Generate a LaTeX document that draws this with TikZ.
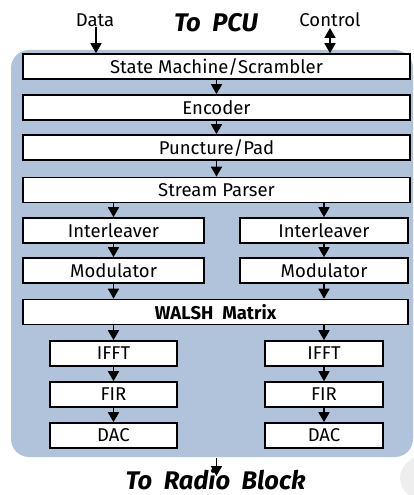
\documentclass[tikz,border=0pt]{standalone}
\usepackage{fontspec}
\setmainfont{Fira Sans}
\usetikzlibrary{arrows.meta}
\definecolor{panel}{HTML}{B0C3DB}
\definecolor{blob}{HTML}{EEEEEE}
\tikzset{
  box/.style={draw=black, line width=1.6pt, fill=white, inner sep=0pt, font=\fontsize{18.5}{21}\selectfont, minimum height=25pt},
  tip/.tip={Triangle[width=11pt,length=10pt]},
  flow/.style={line width=1.6pt, -tip},
  title/.style={font=\fontsize{25.5}{29}\selectfont\bfseries\itshape, inner sep=0pt},
  lbl/.style={font=\fontsize{18.5}{21}\selectfont}
}
\begin{document}
\begin{tikzpicture}[x=1pt,y=-1pt]
\useasboundingbox (0,0) rectangle (414,495);
\fill[blob] (430,478) ellipse (30pt and 24pt);
\fill[panel, rounded corners=18pt] (11,50) rectangle (413,457);

\node[box, minimum width=387pt] (sm) at (216.5,66.5) {State Machine/Scrambler};
\node[box, minimum width=387pt] (enc) at (216.5,107.5) {Encoder};
\node[box, minimum width=387pt] (punc) at (216.5,147.5) {Puncture/Pad};
\node[box, minimum width=387pt] (sp) at (216.5,190) {Stream Parser};
\node[box, minimum width=181pt] (il1) at (113.5,230.5) {Interleaver};
\node[box, minimum width=168pt] (il2) at (324,230.5) {Interleaver};
\node[box, minimum width=181pt] (mod1) at (113.5,270.5) {Modulator};
\node[box, minimum width=168pt] (mod2) at (324,270.5) {Modulator};
\node[box, minimum width=385pt, font=\fontsize{18.5}{21}\selectfont\bfseries] (walsh) at (215.5,312) {WALSH\ \ Matrix};
\node[box, minimum width=127pt] (ifft1) at (113.5,353.5) {IFFT};
\node[box, minimum width=118pt] (ifft2) at (324,353.5) {IFFT};
\node[box, minimum width=127pt] (fir1) at (113.5,394.5) {FIR};
\node[box, minimum width=118pt] (fir2) at (324,394.5) {FIR};
\node[box, minimum width=127pt] (dac1) at (113.5,435.5) {DAC};
\node[box, minimum width=118pt] (dac2) at (324,435.5) {DAC};

\node[lbl] (data) at (95,20) {Data};
\node[lbl] (ctrl) at (330,20) {Control};
\node[title] (pcu) at (216,23) {To\ \ PCU};
\node[title, anchor=base] (radio) at (215.5,489) {To\ \ Radio\ \ Block};

\coordinate (din) at (96,27);
\coordinate (cin) at (330,28);
\coordinate (rtop) at (216.5,458);
\coordinate (rend) at (216.5,476);

\draw[flow] (din) -- (din |- sm.north);
\draw[line width=1.6pt, tip-tip] (cin) -- (cin |- sm.north);
\draw[flow] (sm) -- (enc);
\draw[flow] (enc) -- (punc);
\draw[flow] (punc) -- (sp);
\draw[flow] (sp.south -| il1) -- (il1);
\draw[flow] (sp.south -| il2) -- (il2);
\draw[flow] (il1) -- (mod1);
\draw[flow] (il2) -- (mod2);
\draw[flow] (mod1) -- (mod1 |- walsh.north);
\draw[flow] (mod2) -- (mod2 |- walsh.north);
\draw[flow] (walsh.south -| ifft1) -- (ifft1);
\draw[flow] (walsh.south -| ifft2) -- (ifft2);
\draw[flow] (ifft1) -- (fir1);
\draw[flow] (ifft2) -- (fir2);
\draw[flow] (fir1) -- (dac1);
\draw[flow] (fir2) -- (dac2);
\draw[flow] (rtop) -- (rend);
\end{tikzpicture}
\end{document}
